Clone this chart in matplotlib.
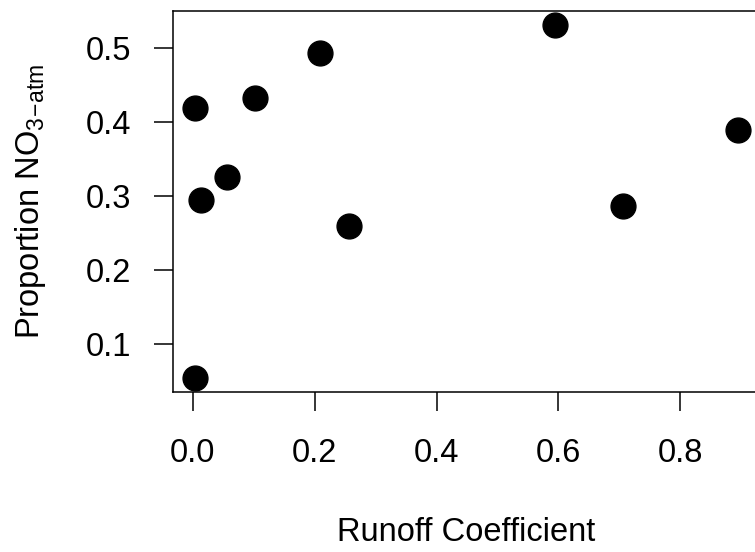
import matplotlib
matplotlib.use("Agg")
import matplotlib.pyplot as plt

plt.rcParams['font.family'] = ['Liberation Sans', 'DejaVu Sans']

# runoff coefficient vs proportion of atmospheric nitrate
runoff = [0.003, 0.013, 0.056, 0.102, 0.209, 0.256, 0.595, 0.706, 0.895, 0.003]
prop_no3 = [0.419, 0.295, 0.326, 0.432, 0.493, 0.259, 0.531, 0.287, 0.389, 0.054]

xticks = [0.0, 0.2, 0.4, 0.6, 0.8]
yticks = [0.1, 0.2, 0.3, 0.4, 0.5]

fig = plt.figure(figsize=(7.55, 5.52), dpi=100)
# axes box runs past the right edge, like the cropped original
ax = fig.add_axes([0.2291, 0.2899, 0.7775, 0.6902])

ax.scatter(runoff, prop_no3, s=320, color='black', zorder=3, clip_on=False)

# R-style 4% padding
xr = max(runoff) - min(runoff)
yr = max(prop_no3) - min(prop_no3)
ax.set_xlim(min(runoff) - 0.04 * xr, max(runoff) + 0.04 * xr)
ax.set_ylim(min(prop_no3) - 0.04 * yr, max(prop_no3) + 0.04 * yr)

ax.set_xticks(xticks)
ax.set_xticklabels([f"{t:.1f}" for t in xticks])
ax.set_yticks(yticks)
ax.set_yticklabels([f"{t:.1f}" for t in yticks])

ax.tick_params(axis='both', length=14, width=1.1, color='black', labelsize=23.5)
ax.tick_params(axis='x', pad=19)
ax.tick_params(axis='y', pad=16)

for sp in ax.spines.values():
    sp.set_linewidth(1.1)
    sp.set_color('black')

ax.set_xlabel("Runoff Coefficient", fontsize=23.5, va='center')
ax.xaxis.set_label_coords(0.5, -(533 - 392) / 381.0)
ax.set_ylabel(r"Proportion NO$_{\mathregular{3\!-\!atm}}$", fontsize=23.5, va='center')
ax.yaxis.set_label_coords(-(173 - 31) / 587.0, 0.5)

fig.savefig("out.png", dpi=100)
